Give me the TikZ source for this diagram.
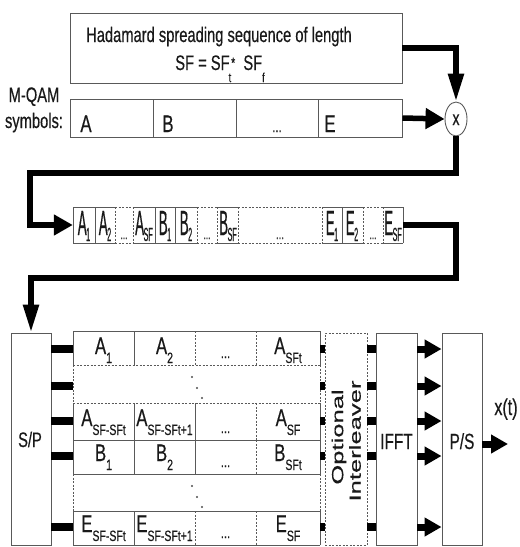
\documentclass[tikz,border=0pt]{standalone}
\usepackage{fontspec}
\setmainfont{Liberation Sans}[FakeStretch=0.7,FakeBold=0.4]
\newfontfamily\tallfont{Liberation Sans}[FakeStretch=0.38,FakeBold=0.4]
\newfontfamily\widefont{Liberation Sans}[FakeStretch=1.6,FakeBold=0.4]
\usetikzlibrary{arrows.meta,shapes.geometric}
\newcommand\fs[1]{\fontsize{#1}{#1}\selectfont}
\newcommand\glab[2]{\fs{24}#1\raisebox{-9pt}{\fs{15}#2}}
\newcommand\slab[2]{{\tallfont\fs{35}#1\kern-0.5pt\raisebox{-6pt}{\fs{19}#2}}}
\begin{document}
\begin{tikzpicture}[x=1pt,y=-1pt,
  box/.style={draw=black!65, line width=0.9pt, rectangle, inner sep=0pt},
  dbox/.style={box, dash pattern=on 2pt off 1.5pt},
  sline/.style={draw=black!65, line width=0.9pt},
  dline/.style={draw=black!65, line width=0.9pt, dash pattern=on 2pt off 1.5pt},
  conn/.style={line width=5.5pt, black},
  stub/.style={line width=8pt, black},
  tipbig/.style={-{Triangle[length=19pt,width=20pt]}},
  tipdown/.style={-{Triangle[length=28pt,width=15pt]}},
  tipsm/.style={-{Triangle[length=17pt,width=18pt]}},
  txt/.style={inner sep=0pt, anchor=base, text=black!90}]
\useasboundingbox (0,0) rectangle (520,547);

% top box
\node[box, minimum width=332pt, minimum height=70pt] (hada) at (236,48) {};
\node[txt] (h1) at (219,42) {\fs{21}Hadamard spreading sequence of length};
\node[txt] (h2) at (220,70) {\fs{21}SF = SF\kern-1pt\raisebox{-12pt}{\fs{13}t}\raisebox{2pt}{\fs{15}*}\ \ SF\raisebox{-12pt}{\fs{13}f}};

% M-QAM symbols row
\node[box, minimum width=332pt, minimum height=38pt] (sym) at (236,118) {};
\foreach \x in {153,236,318} \draw[sline] (\x,99) -- (\x,137);
\node[txt] (mq1) at (34,102) {\fs{21}M-QAM};
\node[txt] (mq2) at (34,128) {\fs{21}symbols:};
\node[txt] (sa) at (86,132) {\fs{24}A};
\node[txt] (sb) at (168,132) {\fs{24}B};
\node[txt] (sd) at (277,132) {\fs{16}...};
\node[txt] (se) at (330,132) {\fs{24}E};

% multiplier
\node[ellipse, draw=black!65, line width=0.9pt, minimum width=22pt, minimum height=34pt, inner sep=0pt] (mult) at (456,119) {};
\node[txt] (mx) at (456,125) {\fs{20}x};

% sequence row
\node[inner sep=0pt, minimum width=330pt, minimum height=36pt] (seq) at (238,225) {};
\def\ya{207}\def\yb{243}
\foreach \a/\b in {73/115,133/197,217/238,322/363,383/403}{
  \draw[sline] (\a,\ya) -- (\b,\ya); \draw[sline] (\a,\yb) -- (\b,\yb);}
\foreach \a/\b in {115/133,197/217,238/322,363/383}{
  \draw[dline] (\a,\ya) -- (\b,\ya); \draw[dline] (\a,\yb) -- (\b,\yb);}
\foreach \x in {73,95,155,175,342,403} \draw[sline] (\x,\ya) -- (\x,\yb);
\foreach \x in {115,133,197,217,238,322,363,383} \draw[dline] (\x,\ya) -- (\x,\yb);
\node[txt] (q1) at (84,235) {\slab{A}{1}};
\node[txt] (q2) at (105,235) {\slab{A}{2}};
\node[txt] (q3) at (124,239) {\fs{12}...};
\node[txt] (q4) at (144,235) {\slab{A}{SF}};
\node[txt] (q5) at (165,235) {\slab{B}{1}};
\node[txt] (q6) at (186,235) {\slab{B}{2}};
\node[txt] (q7) at (207,239) {\fs{12}...};
\node[txt] (q8) at (228,235) {\slab{B}{SF}};
\node[txt] (q9) at (280,239) {\fs{14}...};
\node[txt] (q10) at (332,235) {\slab{E}{1}};
\node[txt] (q11) at (352,235) {\slab{E}{2}};
\node[txt] (q12) at (373,239) {\fs{12}...};
\node[txt] (q13) at (393,235) {\slab{E}{SF}};

% lower blocks
\node[box, minimum width=40pt, minimum height=212pt] (sp) at (31,439) {};
\node[txt] (spt) at (30,447) {\fs{21}S/P};
\node[inner sep=0pt, minimum width=247pt, minimum height=214pt] (grid) at (196.5,438) {};
\node[dbox, minimum width=42pt, minimum height=212pt] (il) at (346,439) {};
\node[txt, anchor=center, rotate=90] (il1) at (339,437) {\widefont\fs{16}Optional};
\node[txt, anchor=center, rotate=90] (il2) at (355,441) {\widefont\fs{16}Interleaver};
\node[box, minimum width=41pt, minimum height=212pt] (ifft) at (396.5,439) {};
\node[txt] (ifftt) at (396.5,449) {\fs{22}IFFT};
\node[box, minimum width=40pt, minimum height=212pt] (ps) at (462,439) {};
\node[txt] (pst) at (462,449) {\fs{22}P/S};
\node[txt] (xt) at (506,415) {\fs{23}x(t)};
\coordinate (out) at (508,444);

% grid lines
\draw[sline] (73,331) -- (320,331);
\draw[dline] (73,365) -- (320,365);
\draw[dline] (73,403) -- (320,403);
\draw[sline] (73,440) -- (320,440);
\draw[sline] (73,474) -- (320,474);
\draw[sline] (73,511) -- (320,511);
\draw[sline] (73,545) -- (320,545);
\foreach \t/\b in {331/365,403/440,440/474,511/545}{
  \draw[sline] (73,\t) -- (73,\b); \draw[sline] (320,\t) -- (320,\b);
  \draw[sline] (134,\t) -- (134,\b); \draw[dline] (256,\t) -- (256,\b);}
\foreach \t/\b in {365/403,474/511}{
  \draw[dline] (73,\t) -- (73,\b); \draw[dline] (320,\t) -- (320,\b);}
\draw[dline] (195,331) -- (195,365);
\draw[sline] (195,403) -- (195,440);
\draw[sline] (195,440) -- (195,474);
\draw[dline] (195,511) -- (195,545);
\foreach \dy in {0,109}{
  \fill[black!70] (192,377+\dy) circle (1.1pt);
  \fill[black!70] (197,388+\dy) circle (1.1pt);
  \fill[black!70] (202,398+\dy) circle (1.1pt);}
% grid labels
\node[txt] (g11) at (103.5,354) {\glab{A}{1}};
\node[txt] (g12) at (164.5,354) {\glab{A}{2}};
\node[txt] (g13) at (225.5,358) {\fs{16}...};
\node[txt] (g14) at (288,354) {\glab{A}{SFt}};
\node[txt] (g31) at (103.5,426) {\glab{A}{SF-SFt}};
\node[txt] (g32) at (164.5,426) {\glab{A}{SF-SFt+1}};
\node[txt] (g33) at (225.5,433) {\fs{16}...};
\node[txt] (g34) at (288,426) {\glab{A}{SF}};
\node[txt] (g41) at (103.5,461) {\glab{B}{1}};
\node[txt] (g42) at (164.5,461) {\glab{B}{2}};
\node[txt] (g43) at (225.5,467) {\fs{16}...};
\node[txt] (g44) at (288,461) {\glab{B}{SFt}};
\node[txt] (g61) at (103.5,532) {\glab{E}{SF-SFt}};
\node[txt] (g62) at (164.5,532) {\glab{E}{SF-SFt+1}};
\node[txt] (g63) at (225.5,538) {\fs{16}...};
\node[txt] (g64) at (288,532) {\glab{E}{SF}};

% row coordinates
\coordinate (r1) at (0,349);
\coordinate (r2) at (0,386);
\coordinate (r3) at (0,421);
\coordinate (r4) at (0,456);
\coordinate (r6) at (0,527);
\foreach \r in {r1,r2,r3,r4,r6}{
  \draw[stub] (sp.east |- \r) -- (grid.west |- \r);
  \draw[stub] (grid.east |- \r) -- (il.west |- \r);
  \draw[stub] (il.east |- \r) -- (ifft.west |- \r);
  \draw[line width=7pt, tipsm] (ifft.east |- \r) -- (ps.west |- \r);}
\draw[line width=7pt, tipsm] (ps.east |- out) -- (out);

% main connectors
\coordinate (b1) at (30,173);
\coordinate (b2) at (456,278);
\draw[conn, tipdown] (hada.east) -| (mult.north);
\draw[conn, tipbig] (sym.east) -- (mult.west);
\draw[conn, tipbig] (mult.south) |- (b1) |- (seq.west);
\draw[conn, tipdown] (seq.east) -| (b2) -| (sp.north);
\end{tikzpicture}
\end{document}
